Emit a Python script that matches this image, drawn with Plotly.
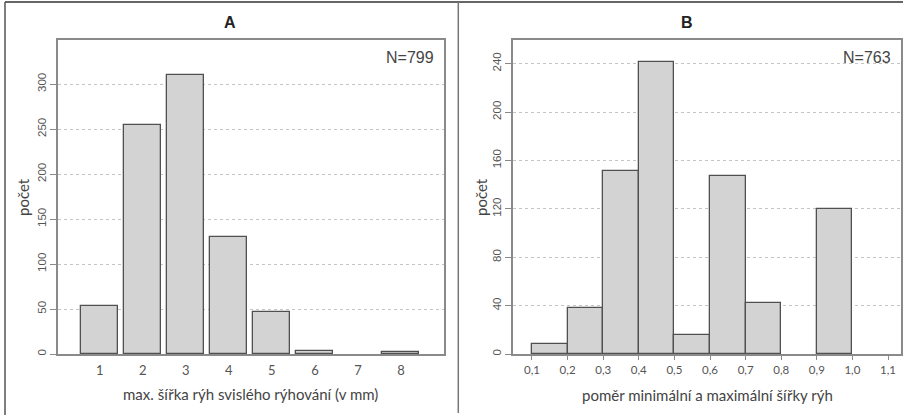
import plotly.graph_objects as go

# Panel A data
a_categories = [1, 2, 3, 4, 5, 6, 7, 8]
a_counts = [53, 254, 310, 130, 47, 3, 0, 2]
a_yticks = [0, 50, 100, 150, 200, 250, 300]

# Panel B data (histogram bins)
b_left_edges = [0.1, 0.2, 0.3, 0.4, 0.5, 0.6, 0.7, 0.8, 0.9, 1.0]
b_counts = [8, 38, 151, 241, 16, 147, 42, 0, 120, 0]
b_xticks = [0.1, 0.2, 0.3, 0.4, 0.5, 0.6, 0.7, 0.8, 0.9, 1.0, 1.1]
b_xticklabels = ["0,1", "0,2", "0,3", "0,4", "0,5", "0,6", "0,7", "0,8", "0,9", "1,0", "1,1"]
b_yticks = [0, 40, 80, 120, 160, 200, 240]

W, H = 906, 417
def px(x):
    return x / W
def py(y):
    return 1 - y / H

fig = go.Figure()

BAR_FILL = "#d3d3d3"
BAR_LINE = "#505050"
BOX = "#8a8a8a"
GRID = "#c4c4c4"
TXT = "#555555"

# zero-count categories / bins draw no visible bar
a_x = [c for c, v in zip(a_categories, a_counts) if v > 0]
a_y = [v for v in a_counts if v > 0]
fig.add_trace(go.Bar(
    x=a_x, y=a_y, width=0.86,
    marker=dict(color=BAR_FILL, line=dict(color=BAR_LINE, width=1.3)),
    xaxis="x", yaxis="y", showlegend=False, hoverinfo="skip"))

b_x = [e + 0.05 for e, v in zip(b_left_edges, b_counts) if v > 0]
b_y = [v for v in b_counts if v > 0]
fig.add_trace(go.Bar(
    x=b_x, y=b_y, width=0.1,
    marker=dict(color=BAR_FILL, line=dict(color=BAR_LINE, width=1.3)),
    xaxis="x2", yaxis="y2", showlegend=False, hoverinfo="skip"))

common_axis = dict(showline=True, mirror=True, linecolor=BOX, linewidth=1.5, zeroline=False)

fig.update_layout(
    width=W, height=H,
    margin=dict(l=0, r=0, t=0, b=0),
    paper_bgcolor="white", plot_bgcolor="white",
    bargap=0,
    xaxis=dict(domain=[px(58), px(444)], range=[0.03, 9.0],
               tickvals=a_categories, ticks="", showgrid=False, ticklabelstandoff=4,
               tickfont=dict(family="Lato", size=13, color=TXT),
               anchor="y", **common_axis),
    yaxis=dict(domain=[py(354), py(40)], range=[0, 349],
               tickvals=a_yticks, tickangle=-90, ticks="outside", ticklen=6,
               tickcolor=BOX, tickwidth=1.3,
               showgrid=True, gridcolor=GRID, griddash="dot", gridwidth=1,
               tickfont=dict(family="Liberation Sans", size=11.5, color=TXT),
               anchor="x", **common_axis),
    xaxis2=dict(domain=[px(513), px(900.7)], range=[0.0467, 1.1356],
                tickvals=b_xticks, ticktext=b_xticklabels, ticks="outside", ticklen=4,
                tickcolor=BOX, tickwidth=1.3, showgrid=False,
                tickfont=dict(family="Lato", size=11.5, color=TXT),
                anchor="y2", **common_axis),
    yaxis2=dict(domain=[py(354), py(40)], range=[0, 259.5],
                tickvals=b_yticks, tickangle=-90, ticks="outside", ticklen=6,
                tickcolor=BOX, tickwidth=1.3,
                showgrid=True, gridcolor=GRID, griddash="dot", gridwidth=1,
                tickfont=dict(family="Liberation Sans", size=11.5, color=TXT),
                anchor="x2", **common_axis),
)

annotations = [
    dict(text="<b>A</b>", x=px(230), y=py(23), font=dict(family="Liberation Sans", size=16, color="#222")),
    dict(text="<b>B</b>", x=px(687), y=py(22), font=dict(family="Liberation Sans", size=16, color="#222")),
    dict(text="N=799", x=px(436), y=py(57), xanchor="right", font=dict(family="Liberation Sans", size=16, color="#444")),
    dict(text="N=763", x=px(893), y=py(57), xanchor="right", font=dict(family="Liberation Sans", size=16, color="#444")),
    dict(text="max. šířka rýh svislého rýhování (v mm)", x=px(250), y=py(394),
         font=dict(family="Lato", size=15, color="#444")),
    dict(text="poměr minimální a maximální šířky rýh", x=px(707), y=py(395),
         font=dict(family="Lato", size=15, color="#444")),
    dict(text="počet", x=px(23), y=py(197), textangle=-90,
         font=dict(family="Lato", size=15, color="#444")),
    dict(text="počet", x=px(481), y=py(197), textangle=-90,
         font=dict(family="Lato", size=15, color="#444")),
]
for a in annotations:
    a.update(xref="paper", yref="paper", showarrow=False)
    if "xanchor" not in a:
        a["xanchor"] = "center"
    a["yanchor"] = "middle"
fig.update_layout(annotations=annotations)

shapes = [
    dict(type="line", x0=px(5), x1=px(903), y0=py(2), y1=py(2), line=dict(color="#333", width=1.5)),
    dict(type="line", x0=px(5), x1=px(5), y0=py(2), y1=py(415), line=dict(color="#555", width=1.5)),
    dict(type="line", x0=px(458.3), x1=px(458.3), y0=py(2), y1=py(413), line=dict(color="#777", width=1.5)),
]
for s in shapes:
    s.update(xref="paper", yref="paper")
fig.update_layout(shapes=shapes)

fig.write_html("out.html", config={"displayModeBar": False},
               post_script="document.body.style.margin='0';document.body.style.overflow='hidden';")
